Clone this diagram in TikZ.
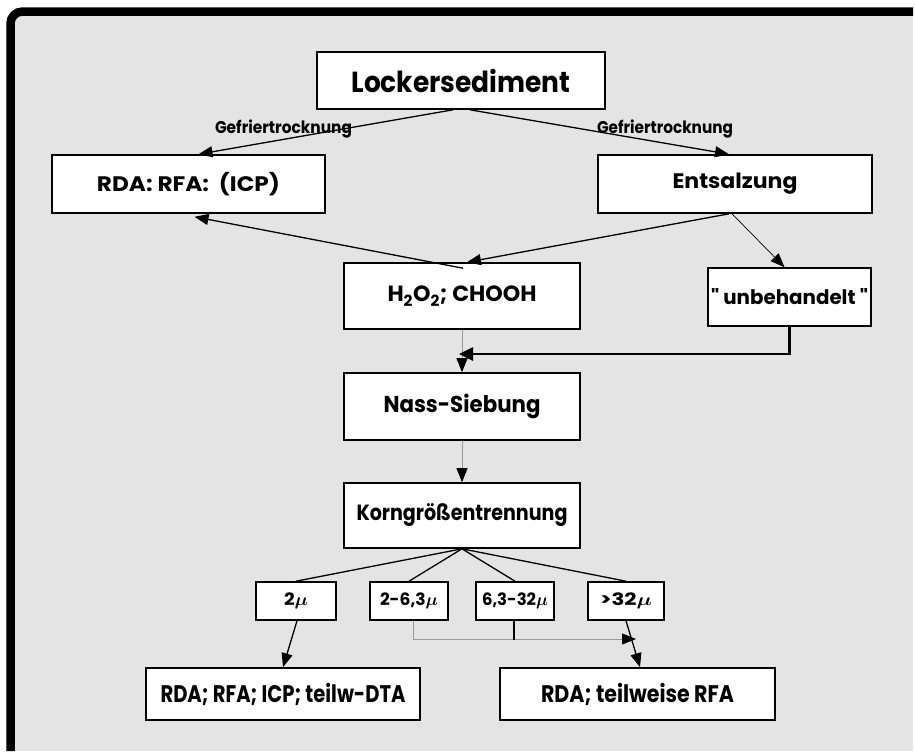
\documentclass[tikz,border=0pt]{standalone}
\usepackage{fontspec}
\usepackage{bm}
\setmainfont{Poppins}
\newfontfamily\dfb{Poppins Bold}
\usetikzlibrary{arrows.meta,calc}
\newcommand\fitw[2]{\resizebox{#1}{\height}{#2}}
\definecolor{bggray}{HTML}{E4E4E4}
\definecolor{thingray}{HTML}{9A9A9A}
\begin{document}
\begin{tikzpicture}[x=1pt,y=-1pt,
  box/.style={draw=black, fill=white, line width=1.6pt, inner sep=0pt},
  conn/.style={draw=black, line width=1.3pt},
  thinconn/.style={draw=thingray, line width=0.9pt},
  tip/.style={-{Triangle[length=14pt,width=11pt,color=black]}},
  lab/.style={inner sep=0pt, anchor=base}
]
\useasboundingbox (0,0) rectangle (915,753);
\fill[white] (0,0) rectangle (915,753);
\fill[bggray] (14,16) rectangle (913,751);
\draw[line width=8.5pt, rounded corners=12pt] (10.5,751) -- (10.5,11.5) -- (913,11.5);

% boxes
\node[box, minimum width=288pt, minimum height=57pt] (lock) at (461,80.5)
  {\dfb\fontsize{29}{29}\selectfont\fitw{219pt}{Lockersediment}};
\node[box, minimum width=273pt, minimum height=58pt] (rda1) at (188.5,184)
  {\dfb\fontsize{21}{21}\selectfont\fitw{183pt}{RDA: RFA:\ \ (ICP)}};
\node[box, minimum width=274pt, minimum height=58pt] (ents) at (735,184)
  {\dfb\fontsize{21}{21}\selectfont\fitw{125pt}{Entsalzung}};
\node[box, minimum width=236pt, minimum height=66pt] (h2o2) at (462,296)
  {\dfb\fontsize{22}{22}\selectfont\fitw{149pt}{H\textsubscript{2}O\textsubscript{2}; CHOOH}};
\node[box, minimum width=163pt, minimum height=58pt] (unbeh) at (789.5,297)
  {\dfb\fontsize{20}{20}\selectfont\fitw{157pt}{" unbehandelt "}};
\node[box, minimum width=236pt, minimum height=67pt] (nass) at (462,406.5)
  {\dfb\fontsize{23}{23}\selectfont\fitw{157pt}{Nass-Siebung}};
\node[box, minimum width=236pt, minimum height=65pt] (korn) at (462,515.5)
  {\dfb\fontsize{22}{22}\selectfont\fitw{211pt}{Korngrößentrennung}};
\node[box, minimum width=80pt, minimum height=38pt] (s1) at (296,601)
  {\dfb\fontsize{17}{17}\selectfont\fitw{24pt}{2$\bm{\mu}$}};
\node[box, minimum width=78pt, minimum height=38pt] (s2) at (409,601)
  {\dfb\fontsize{17}{17}\selectfont\fitw{58pt}{2-6,3$\bm{\mu}$}};
\node[box, minimum width=78pt, minimum height=38pt] (s3) at (515,601)
  {\dfb\fontsize{17}{17}\selectfont\fitw{66pt}{6,3-32$\bm{\mu}$}};
\node[box, minimum width=76pt, minimum height=38pt] (s4) at (626,601)
  {\dfb\fontsize{17}{17}\selectfont\fitw{52pt}{>32$\bm{\mu}$}};
\node[box, minimum width=274pt, minimum height=52pt] (res1) at (283,694)
  {\dfb\fontsize{24}{24}\selectfont\fitw{245pt}{RDA; RFA; ICP; teilw-DTA}};
\node[box, minimum width=275pt, minimum height=52pt] (res2) at (637.5,694)
  {\dfb\fontsize{24}{24}\selectfont\fitw{193pt}{RDA; teilweise RFA}};

% connectors from Lockersediment
\draw[conn, tip] ($(lock.south)+(-8,0)$) -- ($(rda1.north)+(10,0)$);
\draw[conn, tip] ($(lock.south)+(9,0)$) -- ($(ents.north)+(-6,0)$);
\node[lab] (gl) at (283.5,133) {\dfb\fontsize{17}{17}\selectfont\fitw{137pt}{Gefriertrocknung}};
\node[lab] (gr) at (665,133) {\dfb\fontsize{17}{17}\selectfont\fitw{136pt}{Gefriertrocknung}};

% middle
\draw[conn, tip] ($(h2o2.north)+(1,6)$) -- ($(rda1.south)+(6,3)$);
\draw[conn, tip] ($(ents.south)+(-6,0)$) -- ($(h2o2.north)+(5,0)$);
\draw[draw=black, line width=0.7pt, tip] ($(ents.south)+(-3,0)$) -- ($(unbeh.north)+(-5,0)$);
\draw[thinconn, tip] (h2o2.south) -- (nass.north);
\coordinate (j1) at (459,354);
\draw[draw=black, line width=2.6pt, -{Triangle[length=14pt,width=13pt]}] (unbeh.south) |- (j1);
\draw[thinconn, tip] (nass.south) -- (korn.north);

% fan
\foreach \s in {s1,s2,s3,s4} \draw[conn] (korn.south) -- (\s.north);

% bottom
\draw[conn, tip] ($(s1.south)+(1,0)$) -- (res1.north);
\coordinate (j2) at (636,639);
\draw[thinconn, tip] ($(s2.south)+(4,0)$) |- (j2);
\draw[conn] ($(s3.south)+(-1,0)$) -- ($(s3.south)+(-1,19)$);
\draw[conn, tip] (s4.south) -- ($(res2.north)+(2.5,0)$);
\end{tikzpicture}
\end{document}
